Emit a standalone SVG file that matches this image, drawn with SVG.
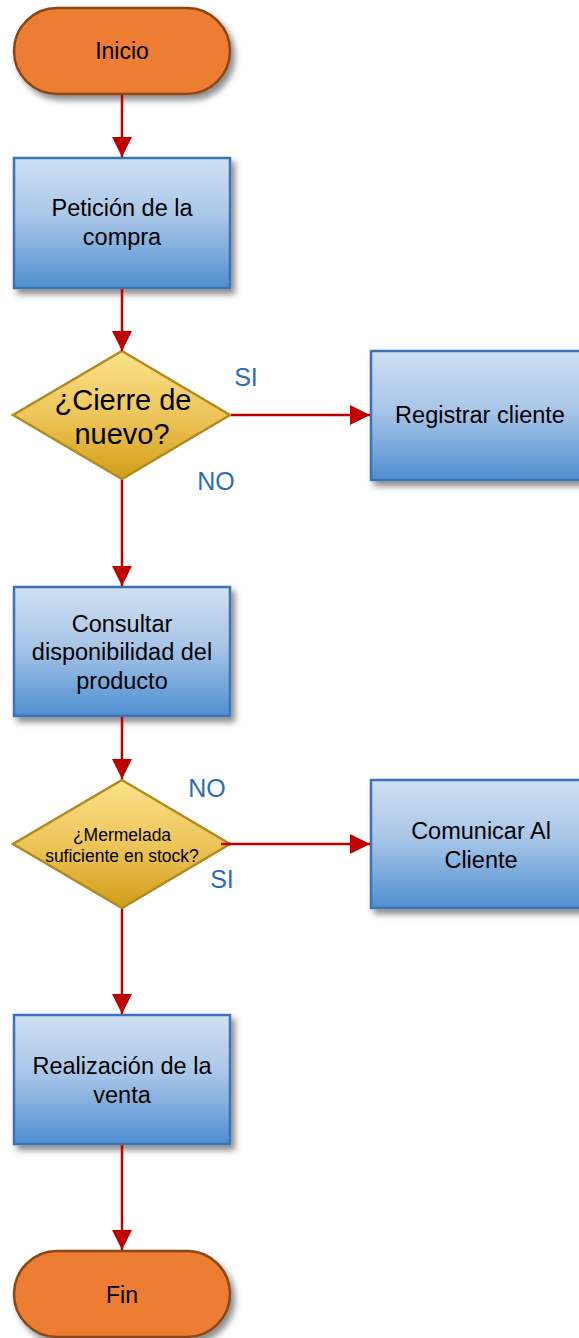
<svg xmlns="http://www.w3.org/2000/svg" width="579" height="1338" viewBox="0 0 579 1338">
<defs>
<linearGradient id="gBlue" x1="0" y1="0" x2="0" y2="1">
<stop offset="0" stop-color="#CFE0F2"/>
<stop offset="0.45" stop-color="#A9C6E8"/>
<stop offset="1" stop-color="#4F8ED1"/>
</linearGradient>
<linearGradient id="gGold" x1="0" y1="0" x2="0" y2="1">
<stop offset="0" stop-color="#FBE28A"/>
<stop offset="0.5" stop-color="#EDC55A"/>
<stop offset="1" stop-color="#D29E19"/>
</linearGradient>
<filter id="sh" x="-20%" y="-20%" width="150%" height="150%">
<feDropShadow dx="4" dy="5" stdDeviation="3" flood-color="#000" flood-opacity="0.45"/>
</filter>
<marker id="arr" viewBox="0 0 10 10" refX="10" refY="5" markerUnits="userSpaceOnUse" markerWidth="20" markerHeight="20" orient="auto">
<path d="M0,0 L10,5 L0,10 Z" fill="#C00000"/>
</marker>
<style>
.term{fill:#ED7D31;stroke:#8A4616;stroke-width:2.5;filter:url(#sh)}
.box{fill:url(#gBlue);stroke:#3A73B3;stroke-width:2.5;filter:url(#sh)}
.dia{fill:url(#gGold);stroke:#B38A1F;stroke-width:2.5}
.t{font-family:"Liberation Sans",Arial,sans-serif;fill:#000;text-anchor:middle}
.lbl{font-family:"Liberation Sans",Arial,sans-serif;fill:#2E6DB0;font-size:25px;text-anchor:middle}
.c{stroke:#C00000;stroke-width:2.5;fill:none}
</style>
</defs>
<rect width="579" height="1338" fill="#FFFFFF"/>

<g id="inicio">
<rect class="term" x="14" y="8" width="216" height="86" rx="43" ry="43"/>
<text class="t" x="122" y="59" font-size="23">Inicio</text>
</g>

<g id="peticion">
<rect class="box" x="14" y="158" width="216" height="130"/>
<text class="t" font-size="23.5"><tspan x="122" y="216">Petición de la</tspan><tspan x="122" y="245">compra</tspan></text>
</g>

<g id="cierre">
<path class="dia" d="M122,351 L230,415 L122,479 L13,415 Z"/>
<text class="t" font-size="29"><tspan x="123" y="410">¿Cierre de</tspan><tspan x="122" y="444">nuevo?</tspan></text>
</g>
<text class="lbl" x="246" y="386">SI</text>
<text class="lbl" x="216" y="490">NO</text>

<g id="registrar">
<rect class="box" x="371" y="351" width="219" height="129"/>
<text class="t" x="480" y="423" font-size="23.5">Registrar cliente</text>
</g>

<g id="consultar">
<rect class="box" x="14" y="587" width="216" height="129"/>
<text class="t" font-size="23.5"><tspan x="122" y="632">Consultar</tspan><tspan x="122" y="660">disponibilidad del</tspan><tspan x="122" y="689">producto</tspan></text>
</g>

<g id="mermelada">
<path class="dia" d="M122,780 L230,844 L122,908 L13,844 Z"/>
<text class="t" font-size="17.5"><tspan x="122" y="841">¿Mermelada</tspan><tspan x="122" y="862">suficiente en stock?</tspan></text>
</g>
<text class="lbl" x="207" y="797">NO</text>
<text class="lbl" x="222" y="888">SI</text>

<g id="comunicar">
<rect class="box" x="371" y="780" width="219" height="128"/>
<text class="t" font-size="23.5"><tspan x="481" y="839">Comunicar Al</tspan><tspan x="481" y="868">Cliente</tspan></text>
</g>

<g id="realizacion">
<rect class="box" x="14" y="1015" width="216" height="129"/>
<text class="t" font-size="23.5"><tspan x="122" y="1074">Realización de la</tspan><tspan x="122" y="1103">venta</tspan></text>
</g>

<g id="fin">
<rect class="term" x="14" y="1251" width="216" height="86" rx="43" ry="43"/>
<text class="t" x="122" y="1303" font-size="23">Fin</text>
</g>

<g id="connectors">
<line class="c" x1="122" y1="95" x2="122" y2="157" marker-end="url(#arr)"/>
<line class="c" x1="122" y1="289" x2="122" y2="351" marker-end="url(#arr)"/>
<line class="c" x1="231" y1="415" x2="370" y2="415" marker-end="url(#arr)"/>
<line class="c" x1="122" y1="480" x2="122" y2="586" marker-end="url(#arr)"/>
<line class="c" x1="122" y1="717" x2="122" y2="779" marker-end="url(#arr)"/>
<line class="c" x1="221" y1="844" x2="370" y2="844" marker-end="url(#arr)"/>
<line class="c" x1="122" y1="909" x2="122" y2="1014" marker-end="url(#arr)"/>
<line class="c" x1="122" y1="1145" x2="122" y2="1250" marker-end="url(#arr)"/>
</g>
</svg>
